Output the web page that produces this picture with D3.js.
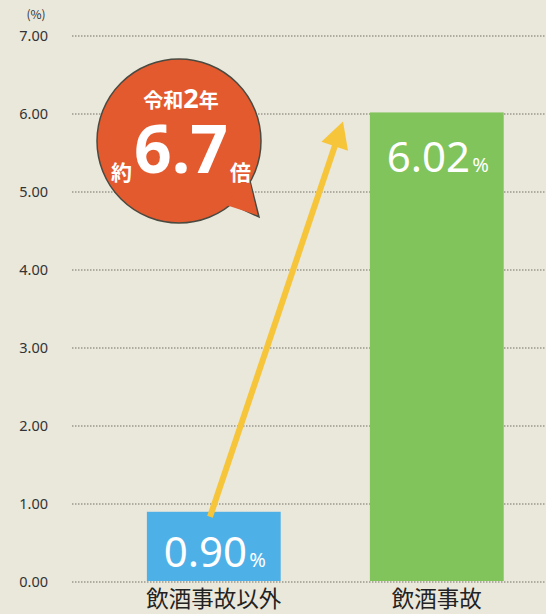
<!DOCTYPE html>
<html lang="ja">
<head>
<meta charset="UTF-8" />
<title>飲酒事故</title>
<script src="https://d3js.org/d3.v7.min.js"></script>
<style>
  html, body { margin: 0; padding: 0; background: #eae7db; }
  svg { display: block; font-family: "Noto Sans CJK JP", "Noto Sans", sans-serif; }
  .grid line { stroke: #9a988f; stroke-dasharray: 1.5 1.5; stroke-width: 1.3; }
</style>
</head>
<body>
<script>
// data
var categories = ["飲酒事故以外", "飲酒事故"];
var values = [0.90, 6.02];
var barColors = ["#4db1e8", "#80c45b"];
var yTicks = [0, 1, 2, 3, 4, 5, 6, 7];

var width = 546, height = 614;
var margin = {top: 36, right: 0, bottom: 32, left: 72};

var svg = d3.select("body").append("svg")
  .attr("width", width)
  .attr("height", height);

var y = d3.scaleLinear()
  .domain([0, 7])
  .range([height - margin.bottom, margin.top]);

var x = d3.scaleBand()
  .domain(categories)
  .range([80, 570.6])
  .paddingInner(0.4)
  .paddingOuter(0.3);

// gridlines
svg.append("g")
  .attr("class", "grid")
  .selectAll("line")
  .data(yTicks)
  .enter().append("line")
  .attr("x1", margin.left)
  .attr("x2", width)
  .attr("y1", function(d) { return y(d); })
  .attr("y2", function(d) { return y(d); });

// y tick labels
svg.append("g")
  .selectAll("text")
  .data(yTicks)
  .enter().append("text")
  .attr("x", 48)
  .attr("y", function(d) { return y(d); })
  .attr("dy", "0.35em")
  .attr("text-anchor", "end")
  .attr("font-size", 14.5)
  .attr("fill", "#333")
  .attr("font-family", "Noto Sans, sans-serif")
  .text(function(d) { return d3.format(".2f")(d); });

svg.append("text")
  .attr("x", 36).attr("y", 19)
  .attr("text-anchor", "middle")
  .attr("font-size", 12)
  .attr("fill", "#333")
  .text("(%)");

// bars
svg.append("g")
  .selectAll("rect")
  .data(values)
  .enter().append("rect")
  .attr("x", function(d, i) { return x(categories[i]); })
  .attr("width", x.bandwidth())
  .attr("y", function(d) { return y(d); })
  .attr("height", function(d) { return y(0) - y(d) - 1; })
  .attr("fill", function(d, i) { return barColors[i]; });

// value labels
var vl = svg.append("g")
  .selectAll("text")
  .data(values)
  .enter().append("text")
  .attr("x", function(d, i) { return x(categories[i]) + x.bandwidth() / 2 + 1; })
  .attr("y", function(d, i) { return i === 0 ? y(d) + 55 : y(d) + 60; })
  .attr("text-anchor", "middle")
  .attr("fill", "#fff")
  .attr("font-family", "Noto Sans, sans-serif");
vl.append("tspan").attr("font-size", 42).text(function(d) { return d3.format(".2f")(d); });
vl.append("tspan").attr("font-size", 20).attr("dx", 2).text("%");

// category labels
svg.append("g")
  .selectAll("text")
  .data(categories)
  .enter().append("text")
  .attr("x", function(d) { return x(d) + x.bandwidth() / 2; })
  .attr("y", 607)
  .attr("text-anchor", "middle")
  .attr("font-size", 22.5)
  .attr("fill", "#222")
  .text(function(d) { return d; });

// arrow from small bar to large bar
var ax0 = 210, ay0 = y(values[0]) + 5;
var ax = 336, ay = y(values[1]) + 30;
svg.append("line")
  .attr("x1", ax0).attr("y1", ay0)
  .attr("x2", ax).attr("y2", ay)
  .attr("stroke", "#f6c53a")
  .attr("stroke-width", 6);
var ang = Math.atan2(ay - ay0, ax - ax0);
var tip = [ax + 22 * Math.cos(ang), ay + 22 * Math.sin(ang)];
var perp = [-Math.sin(ang), Math.cos(ang)];
svg.append("path")
  .attr("d", "M" + tip + " L" + [ax - 4 * Math.cos(ang) + 14 * perp[0], ay - 4 * Math.sin(ang) + 14 * perp[1]] +
    " L" + [ax - 4 * Math.cos(ang) - 14 * perp[0], ay - 4 * Math.sin(ang) - 14 * perp[1]] + " Z")
  .attr("fill", "#f6c53a");

// speech bubble
var bubble = svg.append("g").attr("transform", "translate(179,141)");
bubble.append("path")
  .attr("d", "M50,62 L80,76 L70,36 Z")
  .attr("fill", "#e35a2f")
  .attr("stroke", "#4a4a40")
  .attr("stroke-width", 1.5);
bubble.append("circle")
  .attr("r", 82)
  .attr("fill", "#e35a2f")
  .attr("stroke", "#4a4a40")
  .attr("stroke-width", 1.5);
bubble.append("path")
  .attr("d", "M47,64 L78,74 L69,32 Z")
  .attr("fill", "#e35a2f");

var yearText = bubble.append("text")
  .attr("x", 2).attr("y", -33)
  .attr("text-anchor", "middle")
  .attr("fill", "#fff")
  .attr("font-weight", "bold");
yearText.append("tspan").attr("font-size", 20).text("令和");
yearText.append("tspan").attr("font-size", 27).attr("font-family", "Noto Sans, sans-serif").text("2");
yearText.append("tspan").attr("font-size", 20).text("年");

var ratioText = bubble.append("text")
  .attr("x", 2).attr("y", 32)
  .attr("text-anchor", "middle")
  .attr("fill", "#fff")
  .attr("font-weight", "bold");
ratioText.append("tspan").attr("font-size", 21).attr("dy", 7).text("約");
ratioText.append("tspan").attr("font-size", 66).attr("dy", -7).attr("dx", 2).attr("font-family", "Noto Sans, sans-serif").text("6.7");
ratioText.append("tspan").attr("font-size", 21).attr("dy", 7).attr("dx", 2).text("倍");
</script>
</body>
</html>
